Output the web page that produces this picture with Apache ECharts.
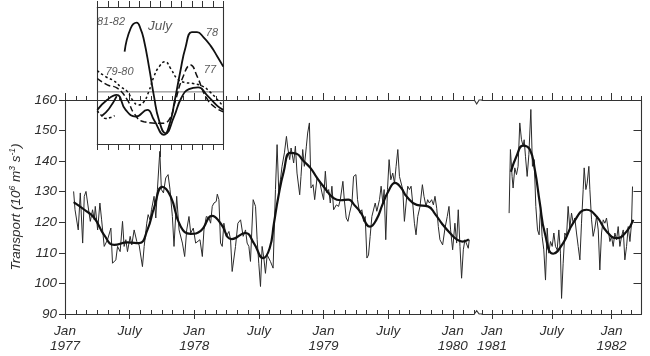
<!DOCTYPE html>
<html><head><meta charset="utf-8">
<script src="https://cdn.jsdelivr.net/npm/echarts@6/dist/echarts.min.js"></script>
<style>html,body{margin:0;padding:0;background:#fff}#c{width:650px;height:356px}</style>
</head><body><div id="c"></div><script>
// ---- data: months since Jan 1977 (left panel) / Jan 1981 (right panel); transport in 10^6 m^3 s^-1
const thin1 = [[0.80,130.1],[0.93,124.1],[1.23,117.5],[1.42,129.6],[1.64,113.2],[1.79,128.5],[1.95,130.1],[2.10,126.3],[2.35,120.3],[2.56,124.1],[2.72,120.8],[2.81,125.2],[3.03,117.5],[3.24,126.3],[3.40,120.8],[3.64,112.1],[3.95,114.3],[4.26,118.1],[4.41,106.6],[4.57,106.1],[4.72,107.7],[4.88,112.1],[5.12,110.4],[5.34,120.3],[5.49,112.1],[5.65,114.3],[5.80,110.4],[6.05,115.4],[6.20,112.6],[6.42,117.5],[6.67,113.7],[6.88,112.6],[7.19,105.5],[7.35,112.1],[7.59,119.7],[7.72,122.5],[7.90,120.8],[8.03,124.1],[8.27,128.5],[8.43,121.4],[8.58,130.7],[8.80,143.2],[8.95,130.7],[9.14,129.6],[9.35,134.5],[9.57,135.6],[9.75,130.7],[9.97,121.9],[10.12,112.1],[10.37,128.5],[10.59,117.5],[10.90,113.2],[11.11,108.8],[11.30,117.5],[11.51,121.9],[11.67,116.5],[11.91,118.1],[12.13,113.2],[12.28,112.6],[12.53,114.3],[12.75,108.8],[12.90,117.5],[13.12,121.9],[13.36,121.4],[13.52,119.7],[13.67,125.2],[13.83,126.3],[14.04,126.8],[14.14,129.2],[14.29,127.4],[14.44,113.2],[14.60,112.1],[14.75,119.7],[14.97,115.4],[15.22,117.0],[15.37,114.3],[15.52,103.9],[15.83,112.1],[16.05,119.7],[16.30,120.8],[16.54,115.4],[16.76,117.5],[16.91,113.2],[17.07,112.1],[17.22,107.2],[17.47,127.4],[17.69,125.2],[17.84,114.3],[17.99,106.6],[18.15,99.0],[18.30,112.1],[18.46,108.3],[18.61,103.3],[18.77,109.3],[18.92,108.8],[19.07,107.2],[19.32,105.0],[19.54,130.7],[19.69,145.4],[19.85,129.6],[20.00,133.9],[20.15,138.3],[20.37,142.7],[20.56,148.1],[20.68,144.3],[20.86,140.5],[20.99,144.3],[21.23,139.4],[21.39,144.9],[21.54,136.1],[21.79,129.0],[21.91,135.0],[22.07,143.8],[22.22,138.3],[22.41,144.9],[22.53,149.2],[22.69,152.5],[22.84,131.2],[23.03,132.3],[23.18,127.4],[23.40,134.5],[23.64,133.4],[23.86,129.6],[24.01,127.4],[24.17,136.7],[24.32,129.6],[24.48,130.7],[24.63,126.3],[24.78,131.8],[24.94,124.1],[25.19,125.7],[25.40,125.2],[25.56,127.4],[25.80,133.4],[25.93,127.4],[26.11,121.4],[26.27,120.3],[26.42,123.0],[26.64,126.3],[26.79,135.0],[27.01,135.6],[27.16,127.4],[27.35,123.0],[27.56,124.1],[27.72,120.3],[27.87,121.9],[28.03,108.3],[28.18,109.3],[28.33,115.4],[28.49,121.9],[28.64,122.5],[28.80,126.3],[28.95,123.6],[29.20,127.4],[29.35,131.8],[29.51,126.3],[29.63,130.7],[29.78,114.3],[29.94,130.7],[30.09,140.5],[30.25,133.9],[30.43,136.1],[30.59,132.8],[30.74,138.3],[30.90,143.8],[31.05,135.0],[31.17,135.6],[31.36,130.7],[31.51,120.3],[31.67,126.3],[31.82,131.8],[31.98,130.7],[32.13,131.8],[32.28,126.3],[32.44,119.7],[32.59,115.9],[32.75,121.9],[32.96,125.2],[33.18,132.3],[33.33,128.5],[33.52,125.2],[33.67,127.4],[33.83,126.3],[34.04,127.4],[34.20,125.7],[34.35,128.5],[34.51,124.6],[34.66,118.6],[34.81,114.3],[35.06,112.6],[35.28,118.1],[35.49,121.9],[35.65,125.2],[35.80,117.5],[35.99,111.0],[36.20,119.7],[36.36,113.2],[36.51,124.1],[36.67,112.1],[36.82,101.7],[36.98,111.0],[37.13,114.3],[37.28,113.7],[37.44,111.5],[37.53,114.3]];
const smooth1 = [[0.8,126.6],[1.8,124.1],[2.72,121.4],[3.64,115.8],[4.57,112.6],[5.8,113.4],[6.88,113.2],[7.65,117.5],[8.27,124.7],[9.04,131.6],[9.8,128.5],[10.74,118.6],[11.67,116.2],[12.6,117.2],[13.67,122.1],[14.44,119.7],[15.5,114.5],[16.76,116.5],[17.53,113.2],[18.4,108.3],[19.0,111.5],[19.4,119.7],[19.8,128.2],[20.3,136.5],[20.9,142.7],[21.5,142.4],[22.1,140.2],[22.78,137.8],[23.4,134.5],[24.0,131.7],[24.94,127.9],[25.6,127.2],[26.3,127.4],[26.9,125.5],[27.4,123.5],[28.33,118.6],[28.9,120.8],[29.5,126.0],[30.0,130.0],[30.65,132.9],[31.2,131.3],[31.7,128.5],[32.66,125.7],[33.7,125.2],[34.4,122.5],[34.97,119.7],[35.74,116.5],[36.4,114.3],[36.9,113.7],[37.5,114.4]];
const thin2 = [[1.72,123.0],[1.85,143.8],[2.02,135.0],[2.12,131.2],[2.29,137.8],[2.46,135.6],[2.62,138.3],[2.79,152.5],[2.96,147.0],[3.13,144.9],[3.23,147.0],[3.36,141.6],[3.53,135.0],[3.70,142.1],[3.90,156.9],[4.06,138.3],[4.23,140.5],[4.40,125.2],[4.57,117.5],[4.73,115.9],[4.87,125.2],[5.03,115.4],[5.20,111.0],[5.37,101.1],[5.54,118.1],[5.70,109.9],[5.87,113.7],[6.04,112.1],[6.21,116.5],[6.37,112.1],[6.54,111.0],[6.71,117.5],[6.87,109.9],[6.98,95.1],[7.14,106.6],[7.31,116.5],[7.48,115.4],[7.64,125.2],[7.81,118.1],[7.98,123.0],[8.15,119.7],[8.31,121.4],[8.48,116.5],[8.65,112.1],[8.82,107.7],[8.98,119.7],[9.15,130.7],[9.25,137.8],[9.42,130.7],[9.55,132.8],[9.72,138.3],[9.82,130.7],[9.99,120.8],[10.15,115.4],[10.32,118.1],[10.49,121.9],[10.66,117.5],[10.82,104.4],[10.99,116.5],[11.16,120.8],[11.33,119.7],[11.49,121.4],[11.66,117.5],[11.83,113.7],[11.99,115.4],[12.16,112.1],[12.33,116.5],[12.50,114.3],[12.66,118.6],[12.83,112.1],[13.00,115.4],[13.17,117.5],[13.33,107.7],[13.50,112.1],[13.67,118.6],[13.84,113.7],[14.00,119.7],[14.10,131.7]];
const smooth2 = [[1.9,136.5],[2.46,141.6],[3.12,145.1],[3.8,143.8],[4.3,137.2],[4.8,126.3],[5.3,116.5],[6.14,109.7],[7.14,113.2],[8.14,119.7],[9.49,124.1],[10.5,121.9],[11.5,117.0],[12.5,114.8],[13.5,117.0],[14.17,120.8]];

// inset: month of year (0 = Jan 1) vs transport
const inset77 = [[0,126.8],[0.95,124.7],[1.9,123.6],[2.86,119.8],[3.49,115.4],[4.44,112.6],[6.03,112.1],[6.83,113.2],[7.46,119.8],[8.1,126.8],[8.89,131.2],[9.52,127.4],[10.32,120.9],[11.11,117.6],[12,115.9]];
const inset78 = [[0,116.5],[0.95,119.8],[1.84,121.4],[2.7,116.5],[3.65,114.3],[4.76,116.5],[5.4,113.2],[6.35,108.3],[6.9,112.0],[7.4,120.0],[7.9,129.0],[8.4,137.0],[9.0,142.0],[9.5,142.0],[10.1,140.4],[10.8,137.5],[11.4,134.2],[12,130.7]];
const inset79 = [[0,129.4],[0.79,127.4],[1.6,126.0],[2.22,124.1],[2.86,122.5],[3.4,119.5],[3.9,118.1],[4.4,119.0],[4.9,122.5],[5.4,127.5],[5.9,130.7],[6.45,132.3],[7.0,130.0],[7.6,126.8],[8.3,125.5],[9.0,125.2],[10.0,124.3],[10.7,122.5],[11.3,120.4],[12,117.6]];
const inset80 = [[0,116.2],[0.35,114.8],[0.8,113.7],[1.3,114.0],[1.65,114.6]];
const inset81 = [[2.6,135.6],[3.17,143.2],[3.75,145.1],[4.13,143.0],[4.44,139.4],[4.92,130.7],[5.4,120.9],[5.87,113.2],[6.5,108.8],[7.3,114.2],[8.0,120.4],[8.73,123.3],[9.6,123.9],[10.48,121.2],[11.43,117.8],[12,116.5]];
const inset82 = [[0.45,114.6],[1.1,116.8],[1.85,121.0]];
const insetMean = 122.4;
const insetLabels = [
  {name:'81-82', value:[1.3,145.2], size:11},
  {name:'July',  value:[5.97,144.0], size:13.5},
  {name:'78',    value:[10.92,141.9], size:11},
  {name:'79-80', value:[2.11,128.8], size:11},
  {name:'77',    value:[10.73,129.6], size:11}
];

// ticks / labels
const major0 = [0,6,12,18,24,30,36];
const majorLabels0 = ['Jan\n1977','July','Jan\n1978','July','Jan\n1979','July','Jan\n1980'];
const major1 = [0,6,12];
const majorLabels1 = ['Jan\n1981','July','Jan\n1982'];

const FONT = '"Liberation Sans", Arial, sans-serif';
const AX = '#333';
const TXT = '#2e2e2e';
const chart = echarts.init(document.getElementById('c'), null, {renderer:'canvas'});

function xa(o) {
  return Object.assign({
    type:'value', splitLine:{show:false},
    axisLine:{show:true, onZero:false, lineStyle:{color:AX, width:1.1}},
    axisTick:{show:true, lineStyle:{color:AX, width:1}},
    axisLabel:{show:false}
  }, o);
}
const labelStyle = {show:true, fontFamily:FONT, fontStyle:'italic', fontSize:13.5, color:TXT, lineHeight:15, margin:10};

const xAxis = [
  xa({gridIndex:0, position:'bottom', min:0, max:38, interval:1, axisTick:{show:true, inside:true, length:4, lineStyle:{color:AX}}}),
  xa({gridIndex:0, position:'bottom', min:0, max:38, axisLine:{show:false, onZero:false},
      axisTick:{show:true, inside:false, length:5, customValues:major0, lineStyle:{color:AX}},
      axisLabel:Object.assign({}, labelStyle, {customValues:major0, formatter:v=>majorLabels0[major0.indexOf(v)]})}),
  xa({gridIndex:0, position:'top', min:0, max:38, interval:1, axisTick:{show:true, inside:false, length:4, lineStyle:{color:AX}}}),
  xa({gridIndex:0, position:'top', min:0, max:38, axisLine:{show:false, onZero:false},
      axisTick:{show:true, inside:false, length:7, customValues:major0, lineStyle:{color:AX}}}),
  xa({gridIndex:1, position:'bottom', min:-1, max:15, interval:1, axisTick:{show:true, inside:true, length:4, lineStyle:{color:AX}}}),
  xa({gridIndex:1, position:'bottom', min:-1, max:15, axisLine:{show:false, onZero:false},
      axisTick:{show:true, inside:false, length:5, customValues:major1, lineStyle:{color:AX}},
      axisLabel:Object.assign({}, labelStyle, {customValues:major1, formatter:v=>majorLabels1[major1.indexOf(v)]})}),
  xa({gridIndex:1, position:'top', min:-1, max:15, interval:1, axisTick:{show:true, inside:false, length:4, lineStyle:{color:AX}}}),
  xa({gridIndex:1, position:'top', min:-1, max:15, axisLine:{show:false, onZero:false},
      axisTick:{show:true, inside:false, length:7, customValues:major1, lineStyle:{color:AX}}}),
  xa({gridIndex:2, position:'bottom', min:0, max:12, interval:1, axisTick:{show:true, inside:false, length:6, lineStyle:{color:AX}}}),
  xa({gridIndex:2, position:'bottom', min:0, max:12, axisLine:{show:false, onZero:false},
      axisTick:{show:true, inside:false, length:13, customValues:[6], lineStyle:{color:AX}}}),
  xa({gridIndex:2, position:'top', min:0, max:12, interval:1, axisTick:{show:true, inside:false, length:6, lineStyle:{color:AX}}})
];

const yAxis = [
  {type:'value', gridIndex:0, position:'left', min:90, max:160, interval:10, splitLine:{show:false},
   axisLine:{show:true, onZero:false, lineStyle:{color:AX, width:1.1}},
   axisTick:{show:true, inside:false, length:6, lineStyle:{color:AX}},
   axisLabel:{show:true, fontFamily:FONT, fontStyle:'italic', fontSize:13.5, color:TXT, margin:8},
   name:'Transport (10{sup|6} m{sup|3} s{sup|-1})', nameLocation:'middle', nameGap:40,
   nameTextStyle:{fontFamily:FONT, fontStyle:'italic', fontSize:13.5, color:TXT,
     rich:{sup:{fontFamily:FONT, fontStyle:'italic', fontSize:8.5, color:TXT, padding:[0,0,8,0]}}}},
  {type:'value', gridIndex:1, position:'right', min:90, max:160, interval:10, splitLine:{show:false},
   axisLine:{show:true, onZero:false, lineStyle:{color:AX, width:1.1}},
   axisTick:{show:true, inside:true, length:8, lineStyle:{color:AX}},
   axisLabel:{show:false}},
  {type:'value', gridIndex:2, position:'left', min:105.3, max:150.25, splitLine:{show:false},
   axisLine:{show:true, onZero:false, lineStyle:{color:AX, width:1.1}}, axisTick:{show:false}, axisLabel:{show:false}},
  {type:'value', gridIndex:2, position:'right', min:105.3, max:150.25, splitLine:{show:false},
   axisLine:{show:true, onZero:false, lineStyle:{color:AX, width:1.1}}, axisTick:{show:false}, axisLabel:{show:false}}
];

function ln(data, xi, yi, style, extra) {
  return Object.assign({type:'line', xAxisIndex:xi, yAxisIndex:yi, data:data, symbol:'none',
    lineStyle:style, silent:true, animation:false}, extra||{});
}
const series = [
  ln(thin1, 0, 0, {width:1, color:'#2a2a2a'}, {z:2}),
  ln(smooth1, 0, 0, {width:2.2, color:'#111'}, {smooth:0.5, z:3}),
  ln(thin2, 4, 1, {width:1, color:'#2a2a2a'}, {z:2}),
  ln(smooth2, 4, 1, {width:2.2, color:'#111'}, {smooth:0.5, z:3}),
  ln([[0,insetMean],[12,insetMean]], 8, 2, {width:0.8, color:'#555'}),
  ln(inset77, 8, 2, {width:1.5, color:'#111', type:[6,3]}, {smooth:0.5}),
  ln(inset78, 8, 2, {width:1.8, color:'#111'}, {smooth:0.5}),
  ln(inset79, 8, 2, {width:1.5, color:'#111', type:[2.5,2.5]}, {smooth:0.5}),
  ln(inset80, 8, 2, {width:1.5, color:'#111', type:[2.5,2.5]}, {smooth:0.5}),
  ln(inset81, 8, 2, {width:1.8, color:'#111'}, {smooth:0.5}),
  ln(inset82, 8, 2, {width:1.8, color:'#111'}, {smooth:0.5}),
  {type:'scatter', xAxisIndex:8, yAxisIndex:2, symbolSize:0, silent:true, itemStyle:{color:'transparent'},
   data: insetLabels.map(d=>({name:d.name, value:d.value,
     label:{show:true, position:'inside', formatter:'{b}', fontFamily:FONT, fontStyle:'italic', fontSize:d.size, color:TXT}}))}
];

chart.setOption({
  animation:false,
  grid:[
    {left:64, top:100, width:410.3, height:214},
    {left:482, top:100, width:159.5, height:214},
    {left:97.3, top:7, width:126, height:137}
  ],
  xAxis:xAxis, yAxis:yAxis, series:series
});

// axis break marks
const bx0 = chart.convertToPixel({xAxisIndex:0}, 38);
const bx1 = chart.convertToPixel({xAxisIndex:4}, -1);
const yT = chart.convertToPixel({yAxisIndex:0}, 160);
const yB = chart.convertToPixel({yAxisIndex:0}, 90);
chart.setOption({graphic:[
  {type:'polyline', shape:{points:[[bx0,yB],[bx0+2.4,yB-3.4],[bx0+4.8,yB],[bx1,yB]]}, style:{stroke:AX, lineWidth:1.1, fill:null}},
  {type:'polyline', shape:{points:[[bx0,yT],[bx0+2.4,yT+4],[bx0+4.8,yT],[bx1,yT]]}, style:{stroke:AX, lineWidth:1.1, fill:null}}
]});
</script></body></html>
